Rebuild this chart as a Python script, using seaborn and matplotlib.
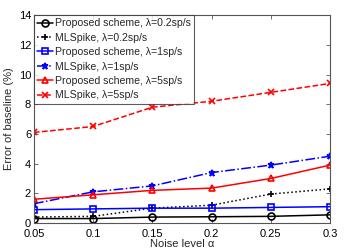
import matplotlib
matplotlib.use("Agg")
import matplotlib.pyplot as plt
import seaborn as sns
import pandas as pd

# noise levels and baseline errors (%)
noise = [0.05, 0.1, 0.15, 0.2, 0.25, 0.3]
prop_02 = [0.3, 0.3, 0.4, 0.42, 0.45, 0.55]
ml_02 = [0.4, 0.45, 1.0, 1.2, 1.95, 2.3]
prop_1 = [0.9, 0.95, 1.0, 1.0, 1.05, 1.1]
ml_1 = [1.3, 2.1, 2.5, 3.4, 3.9, 4.5]
prop_5 = [1.6, 1.9, 2.2, 2.35, 3.0, 3.9]
ml_5 = [6.1, 6.5, 7.8, 8.2, 8.8, 9.4]

labels = [
    "Proposed scheme, \u03bb=0.2sp/s",
    "MLSpike, \u03bb=0.2sp/s",
    "Proposed scheme, \u03bb=1sp/s",
    "MLSpike, \u03bb=1sp/s",
    "Proposed scheme, \u03bb=5sp/s",
    "MLSpike, \u03bb=5sp/s",
]
series = [prop_02, ml_02, prop_1, ml_1, prop_5, ml_5]

sns.set_theme(style="white")
plt.rcParams["font.family"] = ["Liberation Sans", "DejaVu Sans"]

styles = [
    dict(color="black", ls="-", marker="o", mfc="none"),
    dict(color="black", ls=":", marker="+"),
    dict(color="blue", ls="-", marker="s", mfc="none"),
    dict(color="blue", ls="-.", marker="*"),
    dict(color="red", ls="-", marker="^", mfc="none"),
    dict(color="red", ls="--", marker="x"),
]

fig = plt.figure(figsize=(3.46, 2.52), dpi=100)
ax = fig.add_axes([0.098, 0.115, 0.856, 0.825])

for vals, lab, st in zip(series, labels, styles):
    df = pd.DataFrame({"noise": noise, "err": vals})
    sns.lineplot(data=df, x="noise", y="err", ax=ax, label=lab,
                 color=st["color"], linestyle=st["ls"], marker=st["marker"],
                 markerfacecolor=st.get("mfc", st["color"]),
                 markeredgecolor=st["color"], markersize=5,
                 markeredgewidth=1.2, linewidth=1.1)

ax.set_xlim(0.05, 0.3)
ax.set_ylim(0, 14)
ax.set_xticks(noise)
ax.set_xticklabels(["0.05", "0.1", "0.15", "0.2", "0.25", "0.3"])
ax.set_yticks([0, 2, 4, 6, 8, 10, 12, 14])
ax.tick_params(direction="in", length=3, width=0.6, labelsize=8,
               top=True, right=True, bottom=True, left=True,
               colors="#555555", labelcolor="black")
ax.tick_params(axis="x", pad=4)
ax.tick_params(axis="y", pad=2)
for sp in ax.spines.values():
    sp.set_color("#555555")
    sp.set_linewidth(0.8)

ax.set_xlabel("Noise level \u03b1", fontsize=8, labelpad=0)
ax.set_ylabel("Error of baseline (%)", fontsize=8, labelpad=3)

leg = ax.legend(loc="upper left", fontsize=7.6, frameon=True, fancybox=False,
                borderpad=0.3, labelspacing=0.42, handlelength=1.5,
                handletextpad=0.2, borderaxespad=0.0)
leg.get_frame().set_edgecolor("#333333")
leg.get_frame().set_linewidth(0.8)

fig.savefig("out.png", dpi=100)
